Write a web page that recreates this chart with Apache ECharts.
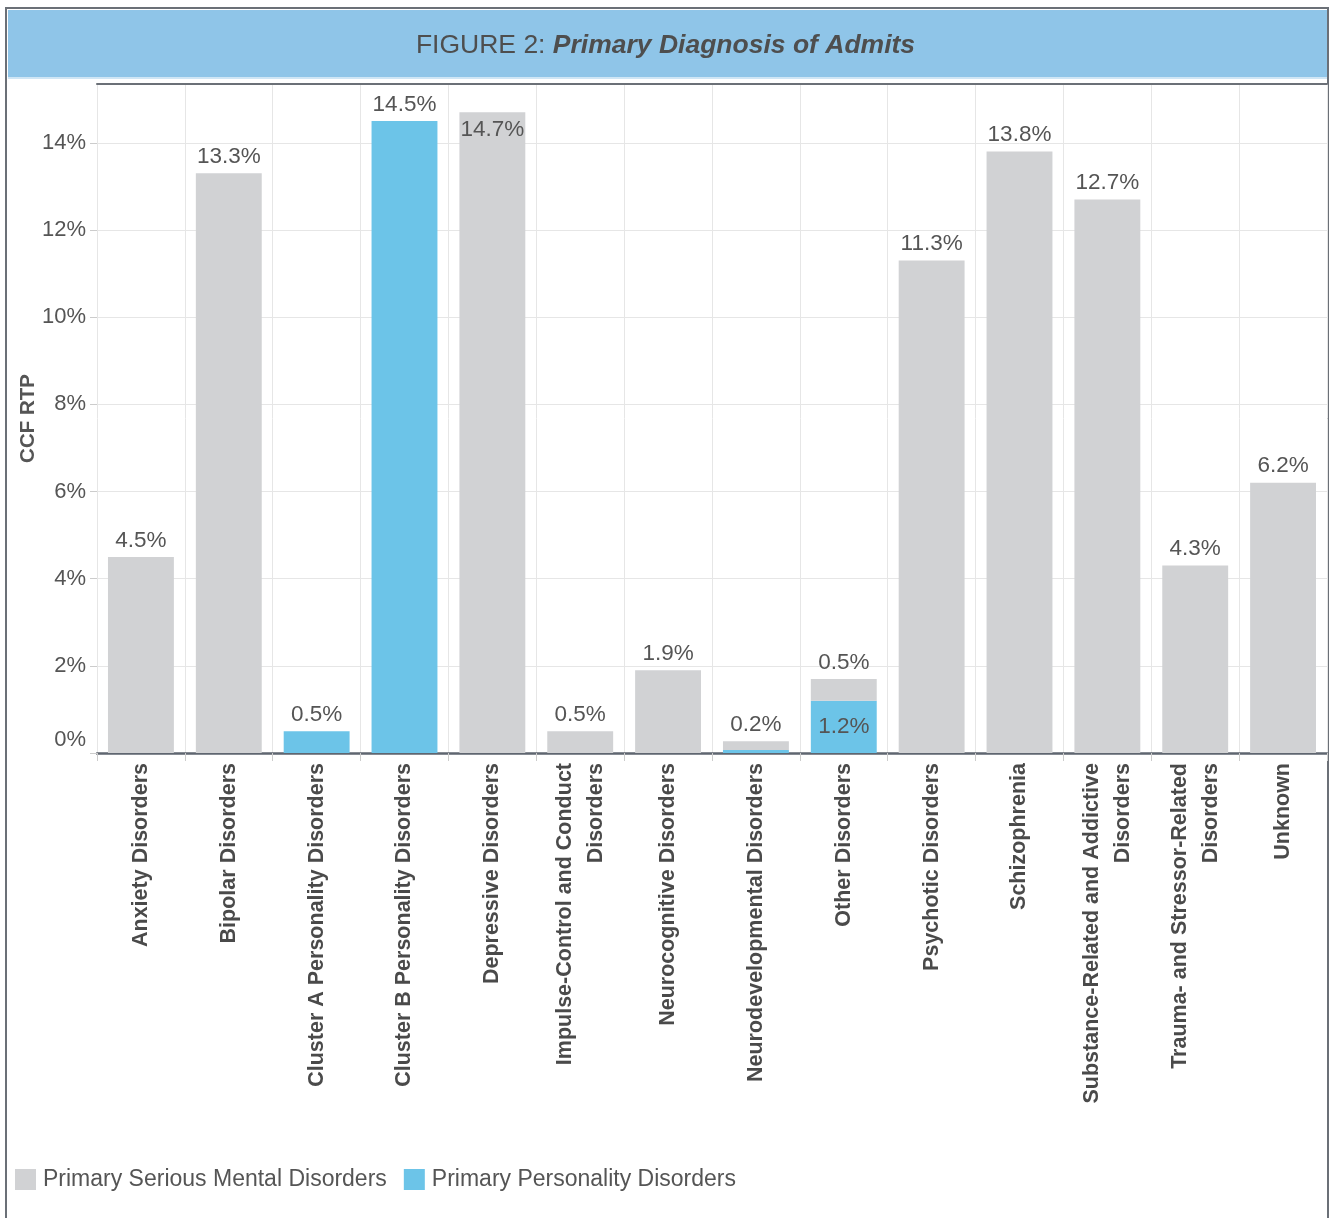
<!DOCTYPE html>
<html>
<head>
<meta charset="utf-8">
<script src="https://cdn.jsdelivr.net/npm/echarts@6/dist/echarts.min.js"></script>
<style>html,body{margin:0;padding:0;background:#fff}#c{width:1331px;height:1218px}</style>
</head>
<body>
<div id="c"></div>
<script>
const categories = [
  "Anxiety Disorders", "Bipolar Disorders", "Cluster A Personality Disorders",
  "Cluster B Personality Disorders", "Depressive Disorders",
  "Impulse-Control and Conduct\nDisorders", "Neurocognitive Disorders",
  "Neurodevelopmental Disorders", "Other Disorders", "Psychotic Disorders",
  "Schizophrenia", "Substance-Related and Addictive\nDisorders",
  "Trauma- and Stressor-Related\nDisorders", "Unknown"
];
const seriousMental = [4.5, 13.3, null, null, 14.7, 0.5, 1.9, 0.2, 0.5, 11.3, 13.8, 12.7, 4.3, 6.2];
const personality  = [null, null, 0.5, 14.5, null, null, null, 0.07, 1.2, null, null, null, null, null];
const yTicks = [0, 2, 4, 6, 8, 10, 12, 14];

const FONT = "'Liberation Sans', 'DejaVu Sans', sans-serif";
const TXT = '#555555';
const GRAY = '#d1d2d4';
const BLUE = '#6cc4e8';

const chart = echarts.init(document.getElementById('c'), null, {renderer: 'canvas'});

const grayData = seriousMental.map((v, i) => {
  if (v == null) return null;
  const d = {value: v};
  if (categories[i] === 'Depressive Disorders') d.label = {position: 'insideTop', distance: 6};
  return d;
});
const blueData = personality.map((v, i) => {
  if (v == null) return null;
  const d = {value: v};
  if (v < 0.1) d.label = {show: false};
  else if (seriousMental[i] != null) d.label = {position: 'inside'};
  return d;
});

const valueLabel = {
  show: true, position: 'top', distance: 5,
  fontFamily: FONT, fontSize: 22.5, color: TXT,
  formatter: p => p.value.toFixed(1) + '%'
};

chart.setOption({
  animation: false,
  backgroundColor: '#ffffff',
  textStyle: {fontFamily: FONT},
  graphic: [
    {type: 'rect', z: -10, shape: {x: 6, y: 8, width: 1322, height: 1230},
     style: {fill: '#ffffff', stroke: '#6b7077', lineWidth: 2}},
    {type: 'rect', z: -9, shape: {x: 8, y: 10, width: 1319, height: 67},
     style: {fill: '#8fc5e8'}},
    {type: 'rect', z: -9, shape: {x: 8, y: 77, width: 1319, height: 2},
     style: {fill: '#cfe6f5'}}
  ],
  title: {
    text: '{a|FIGURE 2: }{b|Primary Diagnosis of Admits}',
    left: 'center', top: 27,
    textStyle: {
      rich: {
        a: {fontFamily: FONT, fontSize: 26.5, color: '#4e4e4e', fontWeight: 'normal'},
        b: {fontFamily: FONT, fontSize: 26.5, color: '#4e4e4e', fontStyle: 'italic'}
      }
    }
  },
  legend: {
    data: ['Primary Serious Mental Disorders', 'Primary Personality Disorders'],
    left: 15, top: 1168, padding: 0, icon: 'rect', itemWidth: 21, itemHeight: 21, itemGap: 17,
    textStyle: {fontFamily: FONT, fontSize: 23, color: TXT, padding: [0, 0, 0, 2]}
  },
  grid: {left: 97, right: 4, top: 84, bottom: 465, containLabel: false},
  xAxis: [{
    type: 'category', data: categories,
    axisLine: {show: true, lineStyle: {color: '#5f6670', width: 2.5}},
    axisTick: {show: true, length: 8, lineStyle: {color: '#cccccc'}},
    splitLine: {show: true, lineStyle: {color: '#e6e6e6'}},
    axisLabel: {rotate: 90, margin: 10, fontFamily: FONT, fontSize: 21.5, fontWeight: 'bold',
                color: '#4a4a4a', lineHeight: 31, interval: 0}
  }, {
    type: 'category', data: categories, position: 'top',
    axisLine: {show: true, lineStyle: {color: '#6b7077', width: 2}},
    axisTick: {show: false}, axisLabel: {show: false}, splitLine: {show: false}
  }],
  yAxis: {
    type: 'value', min: 0, max: 15.35, interval: 2,
    name: 'CCF RTP', nameLocation: 'middle', nameGap: 58, nameRotate: 90,
    nameMoveOverlap: false,
    nameTextStyle: {fontFamily: FONT, fontSize: 20.5, fontWeight: 'bold', color: '#555'},
    axisLine: {show: false},
    axisTick: {show: true, length: 7, lineStyle: {color: '#cccccc'}},
    splitLine: {show: true, lineStyle: {color: '#e6e6e6'}},
    axisLabel: {
      margin: 11, fontFamily: FONT, fontSize: 22, color: TXT, showMaxLabel: false,
      formatter: v => {
        if (!yTicks.includes(v)) return '';
        if (v === 0) return '{z|0%}';
        return v + '%';
      },
      rich: {z: {fontFamily: FONT, fontSize: 22, color: TXT, padding: [0, 0, 26, 0]}}
    }
  },
  series: [
    {
      name: 'Primary Personality Disorders', type: 'bar', stack: 'all',
      data: blueData, barWidth: '75%', itemStyle: {color: BLUE},
      label: valueLabel
    },
    {
      name: 'Primary Serious Mental Disorders', type: 'bar', stack: 'all',
      data: grayData, barWidth: '75%', itemStyle: {color: GRAY},
      label: valueLabel
    }
  ]
});
</script>
</body>
</html>
